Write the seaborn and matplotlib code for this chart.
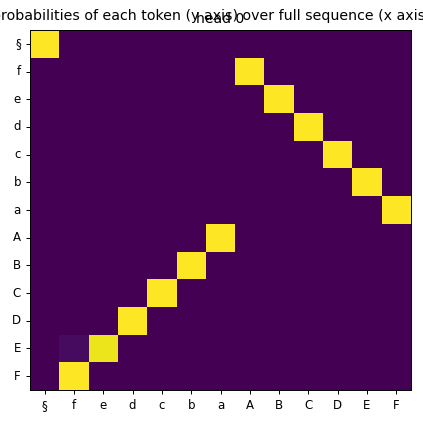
import numpy as np
import pandas as pd
import seaborn as sns
import matplotlib
matplotlib.use("Agg")
import matplotlib.pyplot as plt

# tokens on both axes
tokens = ["§", "f", "e", "d", "c", "b", "a", "A", "B", "C", "D", "E", "F"]

# attention probabilities, one row per query token
probs = [
    [1, 0, 0, 0, 0, 0, 0, 0, 0, 0, 0, 0, 0],     # §
    [0, 0, 0, 0, 0, 0, 0, 1, 0, 0, 0, 0, 0],     # f
    [0, 0, 0, 0, 0, 0, 0, 0, 1, 0, 0, 0, 0],     # e
    [0, 0, 0, 0, 0, 0, 0, 0, 0, 1, 0, 0, 0],     # d
    [0, 0, 0, 0, 0, 0, 0, 0, 0, 0, 1, 0, 0],     # c
    [0, 0, 0, 0, 0, 0, 0, 0, 0, 0, 0, 1, 0],     # b
    [0, 0, 0, 0, 0, 0, 0, 0, 0, 0, 0, 0, 1],     # a
    [0, 0, 0, 0, 0, 0, 1, 0, 0, 0, 0, 0, 0],     # A
    [0, 0, 0, 0, 0, 1, 0, 0, 0, 0, 0, 0, 0],     # B
    [0, 0, 0, 0, 1, 0, 0, 0, 0, 0, 0, 0, 0],     # C
    [0, 0, 0, 1, 0, 0, 0, 0, 0, 0, 0, 0, 0],     # D
    [0, 0.03, 0.97, 0, 0, 0, 0, 0, 0, 0, 0, 0, 0],  # E
    [0, 1, 0, 0, 0, 0, 0, 0, 0, 0, 0, 0, 0],     # F
]

df = pd.DataFrame(probs, index=tokens, columns=tokens)

fig = plt.figure(figsize=(4.23, 4.23), dpi=100)
ax = fig.add_axes([30 / 423, 33 / 423, 381 / 423, 360 / 423])

sns.heatmap(df, cmap="viridis", vmin=0, vmax=1, cbar=False, ax=ax,
            linewidths=0)

for spine in ax.spines.values():
    spine.set_visible(True)
    spine.set_color("black")
    spine.set_linewidth(0.7)

ax.tick_params(axis="both", length=3, width=0.7, labelsize=8.5)
plt.setp(ax.get_yticklabels(), rotation=0)
plt.setp(ax.get_xticklabels(), rotation=0)

ax.set_title("head 0", fontsize=10.1, pad=5)
fig.suptitle("probabilities of each token (y axis) over full sequence (x axis)",
             fontsize=10.15, y=0.978)

fig.savefig("out.png", dpi=100)
